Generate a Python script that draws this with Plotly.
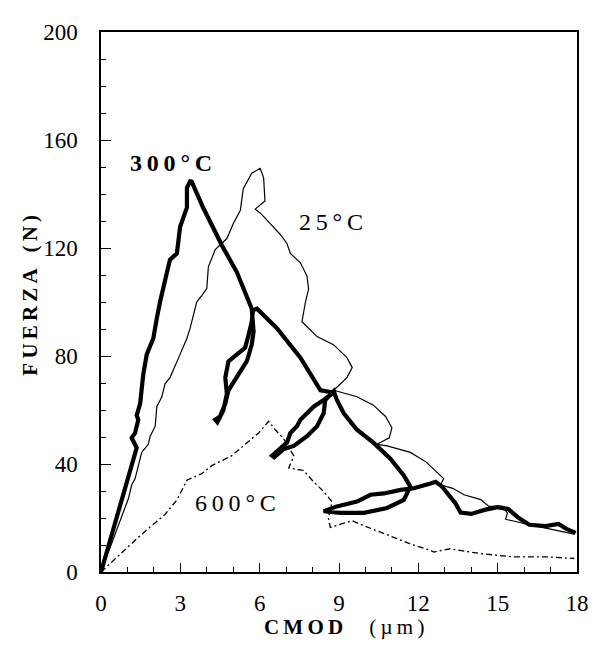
import plotly.graph_objects as go

# ---- data ----
x_25 = [0, 0.5, 1.04, 1.16, 1.29, 1.54, 1.79, 1.86, 2.05, 2.11, 2.3, 2.42, 2.61, 2.99, 3.25, 3.37,
        3.62, 3.81, 4.0, 4.06, 4.32, 4.76, 5.0, 5.27, 5.38, 5.7, 6.02, 6.15, 6.2, 5.83, 6.02, 6.4,
        6.78, 7.03, 7.16, 7.54, 7.79, 7.85, 7.73, 7.6, 8.17, 8.79, 9.3, 9.5, 9.3, 8.8, 9.68, 10.3,
        10.76, 11.0, 10.9, 10.44, 10.82, 11.7, 12.3, 12.7, 12.96, 12.84, 13.3, 13.73, 14.36, 14.67,
        15.18, 15.37, 15.3, 15.6, 16.1, 17.0, 17.9]
y_25 = [0, 13.5, 27.3, 32.2, 34.6, 44.3, 47.3, 50.3, 54, 61.2, 64.9, 69.7, 72, 80.6, 86.6, 90.3,
        100, 102.4, 105, 113, 119.4, 123.5, 129, 134, 142, 147.7, 149.5, 146, 137.4, 134.4, 133, 129,
        125, 121.7, 118, 114.5, 109.6, 104.8, 100, 92.7, 87.2, 84.2, 79.4, 75.7, 72, 67.3, 64.9, 61.8,
        57.6, 53.4, 49.7, 47.3, 46.7, 44.3, 40.7, 37, 34.6, 32.3, 31, 28.6, 26.8, 24.3,
        24.3, 21.9, 19.5, 18.9, 17.7, 15.9, 14]

x_300 = [0, 1.35, 1.16, 1.29, 1.41, 1.35, 1.48, 1.54, 1.6, 1.73, 1.98, 2.11, 2.23, 2.49, 2.61, 2.87,
         2.99, 3.25, 3.25, 3.37, 3.43, 3.86, 4.57, 5.14, 5.52, 5.7, 5.77, 5.7, 5.52, 5.14, 4.82, 4.7,
         4.5, 4.32, 4.4, 4.63, 4.76, 4.7, 4.82, 5.14, 5.45, 5.58, 5.7, 5.75, 5.9, 6.65, 7.54, 8.3,
         8.8, 8.42, 8.04, 7.79, 7.54, 7.41, 7.16, 7.03, 6.72, 6.47, 6.55, 6.9, 7.29, 7.79, 8.17, 8.42,
         8.48, 8.67, 8.8, 8.92, 9.18, 9.68, 10.3, 10.95, 11.45, 11.7, 11.45, 10.82, 9.94, 9.05, 8.42,
         8.92, 9.68, 10.19, 10.7, 11.33, 11.83, 12.46, 12.65, 12.9, 13.2, 13.4, 13.6, 14.0, 14.5,
         15.0, 15.4, 15.8, 16.2, 16.8, 17.3, 17.6, 17.95]
y_300 = [0, 46, 49.7, 51.5, 56.4, 58, 62.4, 69.7, 73.3, 80.6, 86.6, 93.9, 99.9, 110.8, 115.7, 118,
         127.8, 135, 142.3, 144.7, 144.6, 135, 121, 111, 102.4, 97.5, 89, 84.2, 78.2, 72, 67.3, 62.4,
         57.6, 56.4, 55.5, 60, 66, 72, 78, 80.6, 83, 87.8, 92.7, 97, 97.5, 90.3, 79.4, 67.3,
         66.5, 63.7, 61.2, 58.8, 56.4, 54, 51.5, 47.9, 45.5, 43.1, 42.5, 45.5, 46.7, 50.3, 54, 58.8,
         63.7, 66, 67, 63.7, 58.8, 52.7, 47.9, 41.9, 35.8, 31.6, 26.7, 23.7, 21.9, 21.9, 22.5,
         24.3, 26.1, 28.6, 29.1, 30.4, 31, 32.8, 33.4, 31.6, 27.9, 25.5, 22, 21.5, 23,
         24.0, 23.3, 20, 17.5, 17, 17.8, 16, 14.5]

x_600 = [0, 0.97, 1.54, 2.42, 2.87, 3.25, 3.81, 4.19, 4.95, 5.45, 5.96, 6.34, 6.59, 6.9, 7.29,
         7.1, 7.5, 7.66, 8.04, 8.42, 8.74, 8.6, 8.67, 9.5, 9.8, 10.44, 11.08, 11.7, 12.46, 12.59,
         13.2, 14.36, 15.6, 16.9, 17.9]
y_600 = [0, 8.6, 14, 21.3, 26.7, 34, 36.4, 39.4, 43.1, 47.3, 51.5, 55.8, 52.7, 49.4, 43,
         38.5, 38, 37.6, 33.4, 29.8, 26, 20, 16.5, 19, 17.7, 15.2, 12.8, 10.4, 8, 7.4,
         8.6, 6.8, 5.6, 5.6, 5]

x_ticks = [0, 3, 6, 9, 12, 15, 18]
y_ticks = [0, 40, 80, 120, 160, 200]

TS = "\u2009"   # thin space, to mimic the wide letter spacing of the original
NB = "\u00a0"   # non-breaking space (not collapsed)
labels = [TS.join("300") + TS + "°" + TS + "C",
          TS.join("25") + TS + "°" + TS + "C",
          TS.join("600") + TS + "°" + TS + "C"]
label_x = [2.65, 8.7, 5.07]
label_y = [151.4, 129.6, 25.4]
label_bold = [True, False, False]

x_title = "<b>" + TS.join("CMOD") + "</b>" + NB * 5 + TS.join("(µm)")
y_title = "<b>" + TS.join("FUERZA") + NB * 3 + TS.join("(N)") + "</b>"

FONT = "Liberation Serif, Times New Roman, serif"

fig = go.Figure()
fig.add_trace(go.Scatter(x=x_25, y=y_25, mode="lines", line=dict(color="black", width=1.2),
                         showlegend=False))
fig.add_trace(go.Scatter(x=x_600, y=y_600, mode="lines",
                         line=dict(color="black", width=1.3, dash="6px,3px,2px,3px"),
                         showlegend=False))
fig.add_trace(go.Scatter(x=x_300, y=y_300, mode="lines", line=dict(color="black", width=4.2),
                         showlegend=False))

for t, lx, ly, b in zip(labels, label_x, label_y, label_bold):
    fig.add_annotation(x=lx, y=ly, text=(f"<b>{t}</b>" if b else t), showarrow=False,
                       xanchor="center", yanchor="middle",
                       font=dict(family=FONT, size=24, color="black"))

# axis titles
fig.add_annotation(xref="paper", yref="paper", x=0.511, y=-0.1016, text=x_title,
                   showarrow=False, xanchor="center", yanchor="middle",
                   font=dict(family=FONT, size=21, color="black"))
fig.add_annotation(xref="paper", yref="paper", x=-0.151, y=0.512, text=y_title, textangle=-90,
                   showarrow=False, xanchor="center", yanchor="middle",
                   font=dict(family=FONT, size=21, color="black"))

fig.update_layout(
    width=593, height=645,
    margin=dict(l=93, r=24, t=13, b=81),
    paper_bgcolor="white", plot_bgcolor="white",
    font=dict(family=FONT, size=23, color="black"),
)
fig.update_xaxes(
    range=[0, 18], tickvals=x_ticks, ticks="inside", ticklen=9, tickwidth=1.2, tickcolor="black",
    minor=dict(dtick=1, ticks="inside", ticklen=5, tickcolor="black", tickwidth=1),
    showline=True, linecolor="black", linewidth=1.5, mirror=True, showgrid=False, zeroline=False,
    ticklabelstandoff=10,
)
fig.update_yaxes(
    range=[0, 200], tickvals=y_ticks, ticks="inside", ticklen=10, tickwidth=1.2, tickcolor="black",
    minor=dict(dtick=10, ticks="inside", ticklen=5, tickcolor="black", tickwidth=1),
    showline=True, linecolor="black", linewidth=1.5, mirror=True, showgrid=False, zeroline=False,
    ticklabelstandoff=17,
)

fig.write_html("out.html")
